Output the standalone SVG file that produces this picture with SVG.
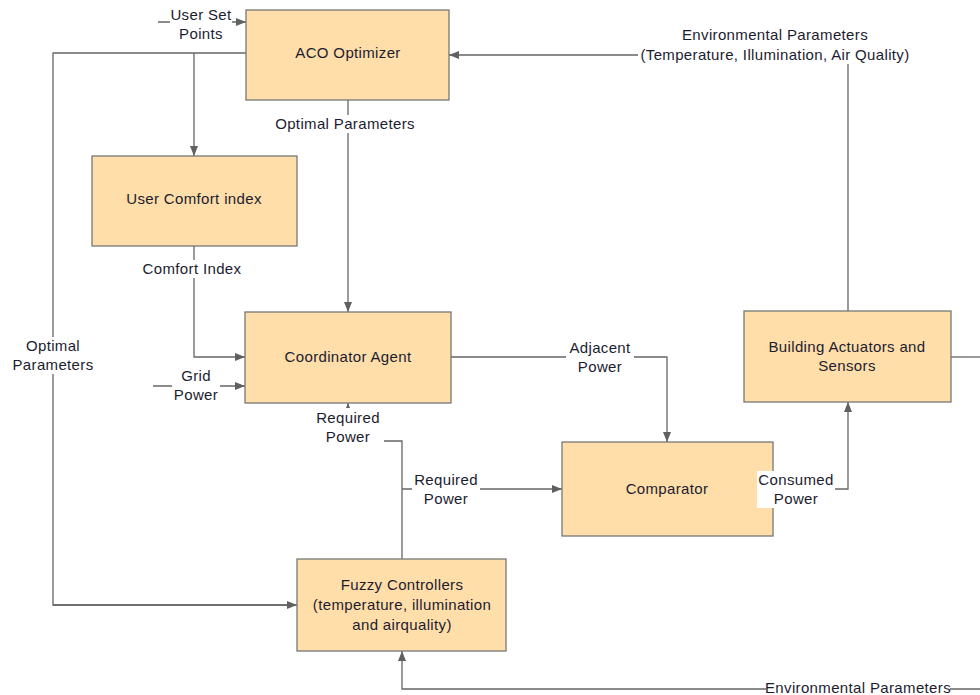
<svg xmlns="http://www.w3.org/2000/svg" width="980" height="695" viewBox="0 0 980 695">
<defs>
<marker id="arr" viewBox="0 0 10 10" refX="10" refY="5" markerWidth="10" markerHeight="10" markerUnits="userSpaceOnUse" orient="auto">
<path d="M0,1 L10,5 L0,9 Z" fill="#606060"/>
</marker>
<style>
.box{fill:#FFDEAA;stroke:#777777;stroke-width:1.3}
.ln{fill:none;stroke:#666666;stroke-width:1.3}
.a{marker-end:url(#arr)}
text{font-family:"Liberation Sans",Arial,sans-serif;font-size:15px;letter-spacing:0.35px;fill:#1c1c30;text-anchor:middle}
.bg{fill:#ffffff}
</style>
</defs>
<rect width="980" height="695" fill="#ffffff"/>
<g id="connectors">
<path class="ln a" d="M158,22 H246"/>
<path class="ln" d="M246,53 H53 V605 H287"/>
<path class="ln a" d="M53,605 H297"/>
<path class="ln a" d="M194,53 V156"/>
<path class="ln a" d="M348,100 V312"/>
<path class="ln a" d="M848,311 V55 H449"/>
<path class="ln a" d="M194,246 V357 H245"/>
<path class="ln a" d="M153,386 H245"/>
<path class="ln a" d="M451,357 H667 V442"/>
<path class="ln a" d="M402,559 V441 H348 V403"/>
<path class="ln a" d="M402,489 H562"/>
<path class="ln a" d="M773,489 H848 V402"/>
<path class="ln" d="M951,357 H980"/>
<path class="ln a" d="M980,689 H402 V651"/>
</g>
<g id="aco">
<rect class="box" x="246" y="10" width="203" height="90"/>
<text x="348" y="58">ACO Optimizer</text>
</g>
<g id="comfort">
<rect class="box" x="92" y="156" width="205" height="90"/>
<text x="194" y="204">User Comfort index</text>
</g>
<g id="coordinator">
<rect class="box" x="245" y="312" width="206" height="91"/>
<text x="348" y="362">Coordinator Agent</text>
</g>
<g id="comparator">
<rect class="box" x="562" y="442" width="211" height="94"/>
<text x="667" y="494">Comparator</text>
</g>
<g id="building">
<rect class="box" x="744" y="311" width="207" height="91"/>
<text x="847" y="352">Building Actuators and</text>
<text x="847" y="371">Sensors</text>
</g>
<g id="fuzzy">
<rect class="box" x="297" y="559" width="209" height="92"/>
<text x="402" y="590">Fuzzy Controllers</text>
<text x="402" y="610">(temperature, illumination</text>
<text x="402" y="630">and airquality)</text>
</g>
<g id="connector-labels">
<rect class="bg" x="170" y="6" width="62" height="37"/>
<text x="201" y="20">User Set</text>
<text x="201" y="39">Points</text>
<rect class="bg" x="18" y="337" width="71" height="37"/>
<text x="53" y="351">Optimal</text>
<text x="53" y="370">Parameters</text>
<rect class="bg" x="274" y="115" width="144" height="18"/>
<text x="345" y="129">Optimal Parameters</text>
<rect class="bg" x="638" y="26" width="276" height="38"/>
<text x="775" y="40">Environmental Parameters</text>
<text x="775" y="60">(Temperature, Illumination, Air Quality)</text>
<rect class="bg" x="142" y="260" width="102" height="18"/>
<text x="192" y="274">Comfort Index</text>
<rect class="bg" x="172" y="367" width="48" height="37"/>
<text x="196" y="381">Grid</text>
<text x="196" y="400">Power</text>
<rect class="bg" x="566" y="339" width="68" height="37"/>
<text x="600" y="353">Adjacent</text>
<text x="600" y="372">Power</text>
<rect class="bg" x="312" y="408" width="72" height="38"/>
<text x="348" y="423">Required</text>
<text x="348" y="442">Power</text>
<rect class="bg" x="412" y="471" width="68" height="37"/>
<text x="446" y="485">Required</text>
<text x="446" y="504">Power</text>
<rect class="bg" x="757" y="471" width="78" height="37"/>
<text x="796" y="485">Consumed</text>
<text x="796" y="504">Power</text>
<rect class="bg" x="766" y="681" width="184" height="14"/>
<text x="858" y="693">Environmental Parameters</text>
</g>
</svg>
